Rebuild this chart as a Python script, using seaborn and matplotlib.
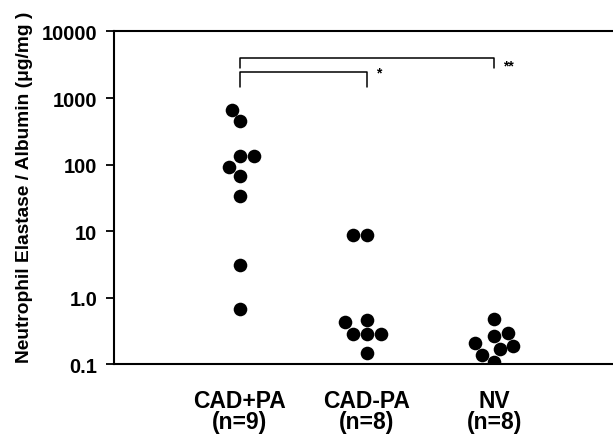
import pandas as pd
import seaborn as sns
import matplotlib.pyplot as plt
from matplotlib.ticker import FixedLocator, NullLocator

# Values (ug/mg, log scale)
groups = ["CAD+PA", "CAD-PA", "NV"]
cad_pa_pos = [670, 450, 136, 136, 91, 67, 34, 3.15, 0.68]
cad_pa_neg = [8.8, 8.8, 0.47, 0.43, 0.29, 0.29, 0.29, 0.15]
nv = [0.49, 0.30, 0.27, 0.21, 0.19, 0.17, 0.14, 0.11]
y_ticks = [0.1, 1, 10, 100, 1000, 10000]
y_tick_labels = ["0.1", "1.0", "10", "100", "1000", "10000"]

# Significance brackets: (from group, to group, top, leg bottom, label, label y)
brackets = [
    (0, 2, 4000, 2800, "**", 3100),
    (0, 1, 2490, 1470, "*", 2440),
]

df = pd.DataFrame({
    "group": [groups[0]] * len(cad_pa_pos) + [groups[1]] * len(cad_pa_neg) + [groups[2]] * len(nv),
    "value": cad_pa_pos + cad_pa_neg + nv,
})
counts = [len(cad_pa_pos), len(cad_pa_neg), len(nv)]

sns.set_style("ticks")
plt.rcParams["font.family"] = ["Liberation Sans", "DejaVu Sans"]
plt.rcParams["font.weight"] = "bold"
for key in ["text.color", "axes.labelcolor", "xtick.color", "ytick.color", "axes.edgecolor"]:
    plt.rcParams[key] = "black"

fig = plt.figure(figsize=(6.13, 4.35), dpi=100)
ax = fig.add_axes([114 / 613, 0.1598, 506 / 613, 0.7655])

ax.set_yscale("log")
sns.swarmplot(data=df, x="group", y="value", order=groups, color="black",
              size=9.8, linewidth=0, ax=ax)

ax.set_ylim(0.1, 10000)
ax.set_xlim(-0.99, 2.99)
ax.yaxis.set_major_locator(FixedLocator(y_ticks))
ax.yaxis.set_minor_locator(NullLocator())
ax.set_yticklabels(y_tick_labels, fontsize=14.5, fontweight="bold")
ax.set_xticks(range(len(groups)))
ax.set_xticklabels([f"{g}\n(n={n})" for g, n in zip(groups, counts)],
                   fontsize=16.5, fontweight="bold", linespacing=0.88)
ax.tick_params(axis="x", length=0, pad=18)
ax.tick_params(axis="y", length=6, width=1.3, pad=6)

ax.set_xlabel("")
ax.set_ylabel("Neutrophil Elastase / Albumin (\u03bcg/mg )", fontsize=13.8, fontweight="bold")
ax.yaxis.set_label_coords(-0.16, 0.535)

for side in ["left", "top", "bottom"]:
    ax.spines[side].set_linewidth(1.5)
    ax.spines[side].set_color("black")
ax.spines["right"].set_visible(False)

for x0, x1, top, bottom, label, label_y in brackets:
    ax.plot([x0, x0, x1, x1], [bottom, top, top, bottom], color="black", lw=1.1)
    ax.text(x1 + 0.07, label_y, label, ha="left", va="center",
            fontsize=10, fontweight="bold")

plt.savefig("out.png", dpi=100)
